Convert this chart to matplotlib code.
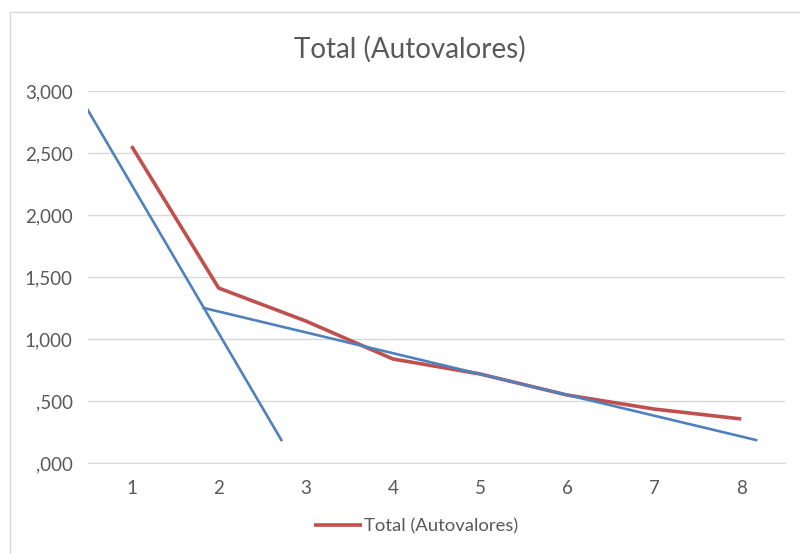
import numpy as np
from matplotlib import pyplot as plt
from matplotlib.ticker import FuncFormatter

plt.rcParams['font.family'] = ['Lato', 'DejaVu Sans']

# datos
componentes = [1, 2, 3, 4, 5, 6, 7, 8]
autovalores = [2.556, 1.411, 1.145, 0.839, 0.718, 0.548, 0.435, 0.355]

# lineas dibujadas a mano (tendencias)
tend1_x = [0.47, 2.72]
tend1_y = [2.88, 0.185]
tend2_x = [1.83, 8.17]
tend2_y = [1.25, 0.185]

fig = plt.figure(figsize=(8, 5.54), dpi=100)
ax = fig.add_axes([0.11, 0.1643, 0.871, 0.6714])

ax.plot(componentes, autovalores, color='#C0504D', lw=2.6,
        solid_capstyle='butt', label='Total (Autovalores)', zorder=3)
ax.plot(tend1_x, tend1_y, color='#4F81BD', lw=1.9, zorder=4)
ax.plot(tend2_x, tend2_y, color='#4F81BD', lw=1.9, zorder=4)

ax.set_xlim(0.5, 8.5)
ax.set_ylim(0, 3)
ax.set_xticks(componentes)
ax.set_yticks(np.arange(0, 3.01, 0.5))


def fmt(v, pos):
    s = '{:.3f}'.format(v)
    ent, dec = s.split('.')
    # estilo excel: 3,000 ... ,500
    if ent == '0':
        return ',' + dec
    return ent + ',' + dec


ax.yaxis.set_major_formatter(FuncFormatter(fmt))
ax.grid(axis='y', color='#D9D9D9', lw=1)
ax.set_axisbelow(True)
for s in ['top', 'right', 'left']:
    ax.spines[s].set_visible(False)
ax.spines['bottom'].set_color('#D9D9D9')
ax.tick_params(axis='both', length=0, labelsize=13.5, colors='#595959')
ax.tick_params(axis='x', pad=12)
ax.tick_params(axis='y', pad=11)

fig.suptitle('Total (Autovalores)', x=0.512, y=0.935, fontsize=20, color='#595959')

fig.legend(loc='lower center', bbox_to_anchor=(0.52, 0.005), frameon=False,
           fontsize=13.3, handlelength=2.6, handletextpad=0.1, labelcolor='#595959')

fig.patches.append(plt.Rectangle((0.013, -0.05), 1.5, 1.028, transform=fig.transFigure,
                                 fill=False, edgecolor='#D9D9D9', lw=1))

plt.savefig('out.png')
